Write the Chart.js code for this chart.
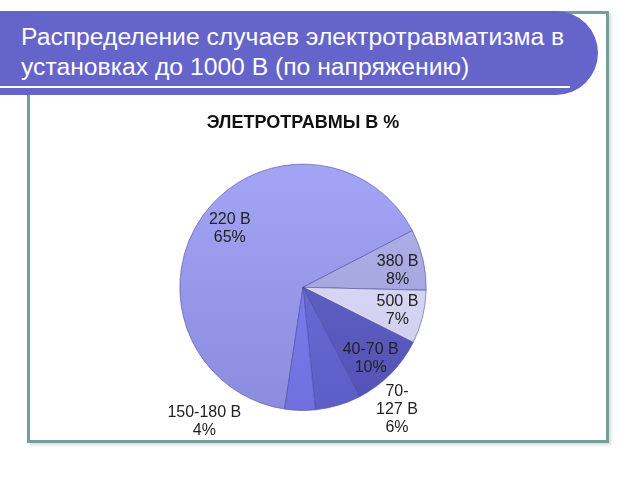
<!DOCTYPE html>
<html>
<head>
<meta charset="utf-8">
<script src="https://cdn.jsdelivr.net/npm/chart.js@4"></script>
<style>
    body { margin: 0; width: 640px; height: 480px; background: #fff; position: relative; overflow: hidden; font-family: "Liberation Sans", Arial, sans-serif; }
    #frame { position: absolute; left: 27px; top: 11px; width: 576px; height: 426px; border: 3px solid #6fa09c; box-shadow: 2px 2px 3px rgba(0,0,0,0.15); }
    #header { position: absolute; left: 0; top: 11px; width: 598px; height: 84px; background: #6464cb; border-radius: 0 42px 42px 0; }
    #header h1 { margin: 0; position: absolute; left: 21px; top: 11px; color: #fff; font-weight: normal; font-size: 24.7px; line-height: 30px; }
    #header .rule { position: absolute; left: 0; top: 75px; width: 570px; height: 2px; background: #fff; }
    #chartBox { position: absolute; left: 33px; top: 100px; width: 540px; height: 340px; }
</style>
</head>
<body>
<div id="frame"></div>
<div id="header">
    <h1>Распределение случаев электротравматизма в<br>установках до 1000 В (по напряжению)</h1>
    <div class="rule"></div>
</div>
<div id="chartBox"><canvas id="pieChart" width="540" height="340"></canvas></div>
<script>
// Chart data
const categories = ['220 В', '380 В', '500 В', '40-70 В', '70-127 В', '150-180 В'];
const percents = [65, 8, 7, 10, 6, 4];
const labelLines = [['220 В', '65%'], ['380 В', '8%'], ['500 В', '7%'], ['40-70 В', '10%'], ['70-', '127 В', '6%'], ['150-180 В', '4%']];
const sliceColors = ['#9c9cef', '#acace4', '#dadaf9', '#6262c6', '#6d6dd8', '#7f7ff0'];

// label placement: [angle offset from slice middle (deg), radius factor]
const labelPlace = [[3, 0.76], [3, 0.78], [0, 0.79], [2, 0.8], [-21, 1.25], [35, 1.35]];

function shade(hex, amt) {
    const n = parseInt(hex.slice(1), 16);
    const f = c => Math.max(0, Math.min(255, Math.round(c + amt)));
    return 'rgb(' + f(n >> 16) + ',' + f((n >> 8) & 255) + ',' + f(n & 255) + ')';
}

function sliceFill(ctx) {
    const area = ctx.chart.chartArea;
    const base = sliceColors[ctx.dataIndex];
    if (!area) return base;
    const g = ctx.chart.ctx.createLinearGradient(0, area.top, 0, area.bottom);
    g.addColorStop(0, shade(base, 8));
    g.addColorStop(1, shade(base, -16));
    return g;
}

const sliceLabels = {
    id: 'sliceLabels',
    afterDatasetsDraw(chart) {
        const ctx = chart.ctx;
        const arcs = chart.getDatasetMeta(0).data;
        ctx.save();
        ctx.font = '16px "Liberation Sans", Arial, sans-serif';
        ctx.fillStyle = '#222';
        ctx.textAlign = 'center';
        ctx.textBaseline = 'middle';
        arcs.forEach((arc, i) => {
            const mid = (arc.startAngle + arc.endAngle) / 2 + labelPlace[i][0] * Math.PI / 180;
            const r = arc.outerRadius * labelPlace[i][1];
            const x = arc.x + Math.cos(mid) * r;
            const y = arc.y + Math.sin(mid) * r;
            const lines = labelLines[i];
            const lh = 18;
            lines.forEach((t, k) => {
                ctx.fillText(t, x, y + (k - (lines.length - 1) / 2) * lh);
            });
        });
        ctx.restore();
    }
};

new Chart(document.getElementById('pieChart'), {
    type: 'pie',
    data: {
        labels: categories,
        datasets: [{
            data: percents,
            backgroundColor: sliceFill,
            borderColor: 'rgba(70,70,150,0.55)',
            borderWidth: 1
        }]
    },
    options: {
        responsive: false,
        animation: false,
        rotation: 188.6,
        layout: { padding: { top: 0, bottom: 29 } },
        plugins: {
            legend: { display: false },
            tooltip: { enabled: false },
            title: {
                display: true,
                text: 'ЭЛЕТРОТРАВМЫ В %',
                color: '#111',
                font: { family: '"Liberation Sans", Arial, sans-serif', size: 18, weight: 'bold' },
                padding: { top: 12, bottom: 30 }
            }
        }
    },
    plugins: [sliceLabels]
});
</script>
</body>
</html>
